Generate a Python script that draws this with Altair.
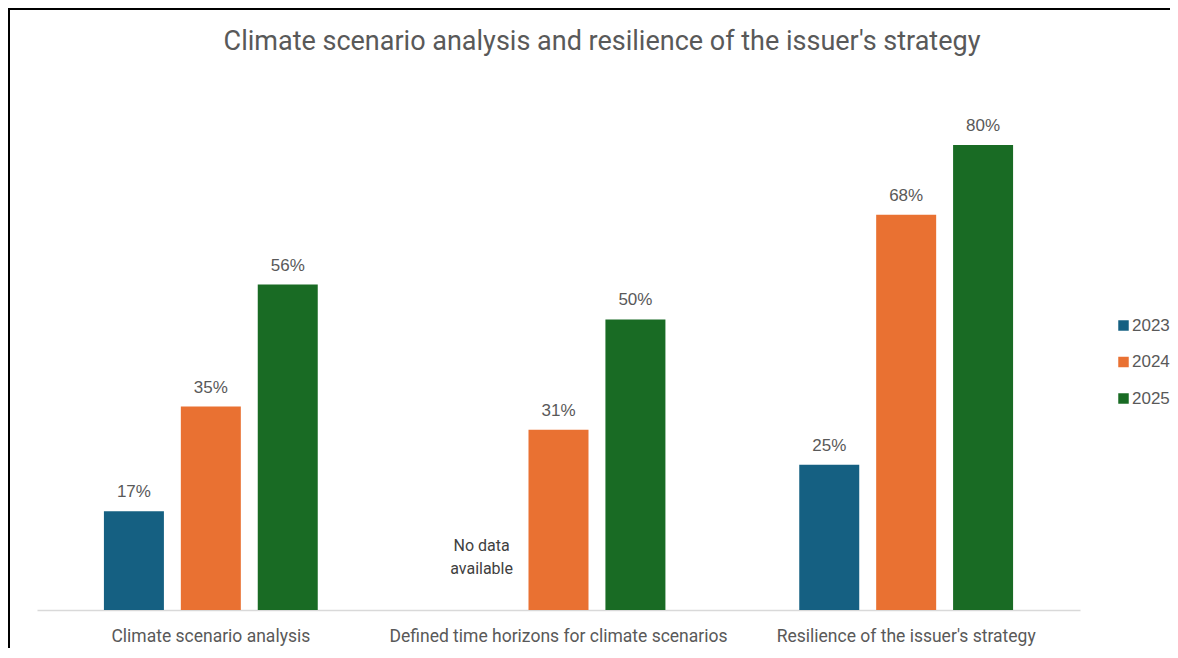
import altair as alt
import pandas as pd

title_text = "Climate scenario analysis and resilience of the issuer's strategy"
categories = [
    "Climate scenario analysis",
    "Defined time horizons for climate scenarios",
    "Resilience of the issuer's strategy",
]
years = ["2023", "2024", "2025"]
values_2023 = [17, None, 25]
values_2024 = [35, 31, 68]
values_2025 = [56, 50, 80]
colors = ["#156082", "#E97132", "#196B24"]
missing_note = "No data\navailable"

rows = []
for year, vals in zip(years, [values_2023, values_2024, values_2025]):
    for cat, v in zip(categories, vals):
        rows.append({"category": cat, "year": year, "value": v,
                     "note": missing_note if v is None else ""})
df = pd.DataFrame(rows)

x_enc = alt.X(
    "category:N", sort=categories,
    scale=alt.Scale(paddingInner=0, paddingOuter=0),
    axis=alt.Axis(title=None, labelAngle=0, labelLimit=0, ticks=False,
                  labelFont="Roboto", labelFontSize=17.5,
                  labelColor="#595959", labelPadding=17,
                  domainColor="#D9D9D9", domainWidth=1.5),
)
xoff_enc = alt.XOffset("year:N", sort=years,
                       scale=alt.Scale(paddingInner=0.22, paddingOuter=0.87))
y_scale = alt.Scale(domain=[0, 90])

base = alt.Chart(df).encode(x=x_enc, xOffset=xoff_enc)

bars = base.mark_bar().encode(
    y=alt.Y("value:Q", scale=y_scale, axis=None),
    color=alt.Color(
        "year:N", sort=years,
        scale=alt.Scale(domain=years, range=colors),
        legend=alt.Legend(title=None, orient="none", legendX=1078, legendY=230,
                          symbolType="square", symbolSize=110, symbolStrokeWidth=0,
                          labelFont="Liberation Sans", labelFontSize=17,
                          labelColor="#595959", rowPadding=18.5, labelOffset=0,
                          padding=0),
    ),
)

labels = base.transform_filter("isValid(datum.value)").transform_calculate(
    label="datum.value + '%'"
).mark_text(baseline="bottom", dy=-10, font="Liberation Sans", fontSize=17,
            color="#595959").encode(
    y=alt.Y("value:Q", scale=y_scale),
    text="label:N",
)

notes = base.transform_filter("!isValid(datum.value)").mark_text(
    baseline="bottom", dy=-56, font="Roboto", fontSize=16,
    color="#404040", lineBreak="\n", lineHeight=23,
).encode(
    y=alt.datum(0),
    text="note:N",
)

title_df = pd.DataFrame({"t": [title_text]})
title = alt.Chart(title_df).mark_text(
    font="Roboto", fontSize=27, color="#595959",
    baseline="middle", align="center",
).encode(x=alt.value(565), y=alt.value(-45), text="t:N")

border_df = pd.DataFrame({"b": [0]})
top_border = alt.Chart(border_df).mark_rule(color="#000000", strokeWidth=2).encode(
    x=alt.value(-29), x2=alt.value(1133), y=alt.value(-78))
left_border = alt.Chart(border_df).mark_rule(color="#000000", strokeWidth=2).encode(
    x=alt.value(-28), y=alt.value(-79), y2=alt.value(561))

chart = alt.layer(bars, labels, notes, title, top_border, left_border).properties(
    width=1043, height=523,
    autosize=alt.AutoSizeParams(type="none"),
    padding={"left": 29, "top": 79, "right": 90, "bottom": 38},
    background="white",
).configure_view(stroke=None)

chart.save("out.html", embed_options={"renderer": "svg", "actions": False})
